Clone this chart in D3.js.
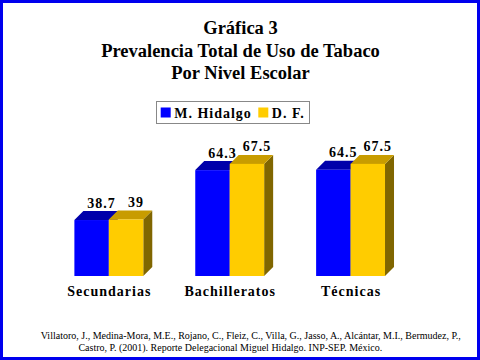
<!DOCTYPE html>
<html><head><meta charset="utf-8">
<script src="https://cdn.jsdelivr.net/npm/d3@7"></script>
<style>html,body{margin:0;padding:0;background:#fff}svg{display:block}</style>
</head><body>
<script>
const categories = ["Secundarias", "Bachilleratos", "Técnicas"];
const seriesNames = ["M. Hidalgo", "D. F."];
const hidalgo = [38.7, 64.3, 64.5];
const df = [39, 67.5, 67.5];
const valueLabels = [["38.7", "64.3", "64.5"], ["39", "67.5", "67.5"]];
const titleLines = ["Gráfica 3", "Prevalencia Total de Uso de Tabaco", "Por Nivel Escolar"];
const footerLines = [
  "Villatoro, J., Medina-Mora, M.E., Rojano, C., Fleiz, C., Villa, G., Jasso, A., Alcántar, M.I., Bermudez, P.,",
  "Castro, P. (2001). Reporte Delegacional Miguel Hidalgo. INP-SEP. México."
];

const W = 480, H = 360;
const serif = "'Liberation Serif','Times New Roman',serif";
const colors = {
  front: ["#0000FF", "#FFCC00"],
  top: ["#0000AA", "#C89C00"],
  side: ["#00007F", "#806600"]
};
const dx = 9, dy = 9;

const svg = d3.select("body").append("svg").attr("width", W).attr("height", H);
svg.append("rect").attr("x", 1.5).attr("y", 1.5).attr("width", W - 3).attr("height", H - 3)
  .attr("fill", "#fff").attr("stroke", "#0000EE").attr("stroke-width", 3);

// Title
svg.append("g").selectAll("text").data(titleLines).join("text")
  .attr("x", 240.5).attr("y", (d, i) => 34.3 + i * 22.4)
  .attr("text-anchor", "middle").attr("font-family", serif)
  .attr("font-weight", "bold").attr("font-size", 18.5).attr("fill", "#000")
  .text(d => d);

// Legend
const lg = svg.append("g");
lg.append("rect").attr("x", 156.5).attr("y", 101.5).attr("width", 153).attr("height", 22)
  .attr("fill", "#fff").attr("stroke", "#888").attr("stroke-width", 1);
const legX = [160.7, 258.3];
seriesNames.forEach((s, i) => {
  lg.append("rect").attr("x", legX[i]).attr("y", 107.5).attr("width", 10).attr("height", 10)
    .attr("fill", colors.front[i]);
  lg.append("text").attr("x", legX[i] + 13.5).attr("y", 117.7)
    .attr("font-family", serif).attr("font-weight", "bold").attr("font-size", 14)
    .attr("letter-spacing", 1).attr("fill", "#000").text(s);
});

// Scales
const base = 276;
const y = d3.scaleLinear().domain([10, 80]).range([base, base - 70 * 1.95]);
const x0 = d3.scaleBand().domain(categories).range([48.4, 411]).paddingInner(0.43).paddingOuter(0.215);
const x1 = d3.scaleBand().domain(seriesNames).range([0, x0.bandwidth()]).padding(0);

const values = [hidalgo, df];
const bars = [];
categories.forEach((c, ci) => {
  seriesNames.forEach((s, si) => {
    bars.push({c, s, si, v: values[si][ci], label: valueLabels[si][ci]});
  });
});

const g = svg.append("g");
bars.forEach(b => {
  const bx = x0(b.c) + x1(b.s), w = x1.bandwidth(), by = y(b.v);
  const bg = g.append("g");
  bg.append("polygon")
    .attr("points", [[bx + w, by], [bx + w + dx, by - dy], [bx + w + dx, base - dy], [bx + w, base]].join(" "))
    .attr("fill", colors.side[b.si]);
  bg.append("polygon")
    .attr("points", [[bx, by], [bx + dx, by - dy], [bx + w + dx, by - dy], [bx + w, by]].join(" "))
    .attr("fill", colors.top[b.si]);
  bg.append("rect").attr("x", bx).attr("y", by).attr("width", w).attr("height", base - by)
    .attr("fill", colors.front[b.si]);
});

// Value labels
svg.append("g").selectAll("text").data(bars).join("text")
  .attr("x", d => x0(d.c) + x1(d.s) + x1.bandwidth() / 2 + dx + 1)
  .attr("y", d => y(d.v) - dy - 3.5)
  .attr("text-anchor", "middle").attr("font-family", serif).attr("font-weight", "bold")
  .attr("font-size", 14).attr("letter-spacing", 1).attr("fill", "#000")
  .text(d => d.label);

// Category axis labels
svg.append("g").selectAll("text").data(categories).join("text")
  .attr("x", d => x0(d) + x0.bandwidth() / 2 + 0.5)
  .attr("y", 296)
  .attr("text-anchor", "middle").attr("font-family", serif).attr("font-weight", "bold")
  .attr("font-size", 14).attr("letter-spacing", 1).attr("fill", "#000")
  .text(d => d);

// Footer
const footX = [250.8, 230.3];
svg.append("g").selectAll("text").data(footerLines).join("text")
  .attr("x", (d, i) => footX[i]).attr("y", (d, i) => 338.7 + i * 12)
  .attr("text-anchor", "middle").attr("font-family", serif)
  .attr("font-size", 10).attr("fill", "#000")
  .text(d => d);
</script>
</body></html>
